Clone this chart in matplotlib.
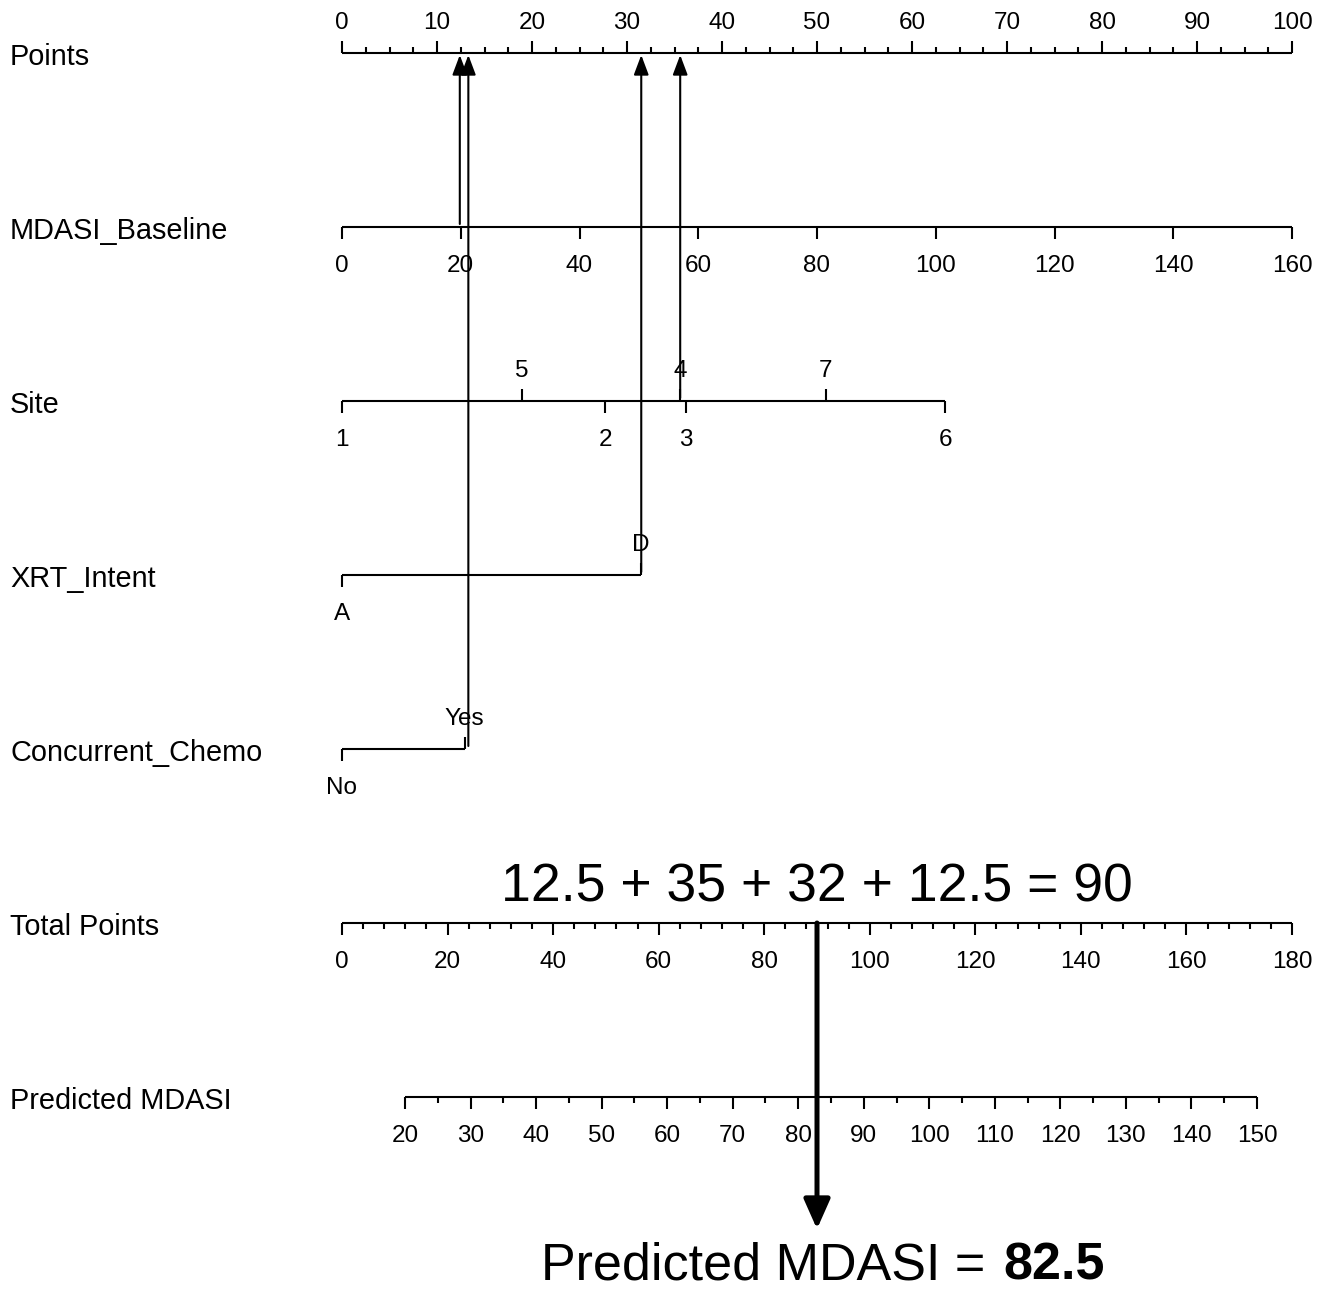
import matplotlib
matplotlib.use('Agg')
import matplotlib.pyplot as plt
from matplotlib.transforms import blended_transform_factory
import numpy as np

plt.rcParams['font.family'] = ['Liberation Sans', 'DejaVu Sans']

# ---------------- data ----------------
row_labels = ['Points', 'MDASI_Baseline', 'Site', 'XRT_Intent',
              'Concurrent_Chemo', 'Total Points', 'Predicted MDASI']

points_ticks = list(range(0, 101, 10))
points_minor_step = 2.5

mdasi_ticks = [0, 20, 40, 60, 80, 100, 120, 140, 160]
mdasi_max = 160          # value that scores 100 points

site_levels = ['1', '5', '2', '4', '3', '7', '6']
site_points = [0, 18.9, 27.7, 35.6, 36.2, 50.9, 63.5]
site_side = ['below', 'above', 'below', 'above', 'below', 'above', 'below']

xrt_levels = ['A', 'D']
xrt_points = [0, 31.5]
xrt_side = ['below', 'above']

chemo_levels = ['No', 'Yes']
chemo_points = [0, 12.9]
chemo_side = ['below', 'above']

total_ticks = list(range(0, 181, 20))
total_minor_step = 4
total_max = 180

pred_ticks = list(range(20, 151, 10))
pred_minor_step = 5
pred_total_at_20 = 11.94
pred_total_at_150 = 173.37

arrow_points = [12.4, 13.3, 31.5, 35.6]
arrow_rows = [1, 4, 3, 2]

total_value = 90
formula_text = '12.5 + 35 + 32 + 12.5 = 90'
pred_text = 'Predicted MDASI ='
pred_value_text = '82.5'

# ---------------- helpers ----------------
W, H = 1335, 1292
ROW_PX = 174.0
PX = 1.0 / ROW_PX          # one pixel in row units
X0, X1 = 342, 1292         # pixel extent of the 0-100 points scale

def mdasi_pts(v):
    return v * 100.0 / mdasi_max

def total_pts(t):
    return t * 100.0 / total_max

def pred_pts(p):
    t = pred_total_at_20 + (p - 20) * (pred_total_at_150 - pred_total_at_20) / 130.0
    return total_pts(t)

fig = plt.figure(figsize=(W / 100, H / 100), dpi=100)
ax = fig.add_axes([X0 / W, 0, (X1 - X0) / W, 1])
ax.set_xlim(0, 100)
ax.set_ylim((H - 53) / ROW_PX, -53 / ROW_PX)
ax.axis('off')

LW = 1.5
MAJ = 12 * PX
MIN = 6 * PX
TICK_FS = 17.5
ABOVE = 24 * PX
BELOW = 45 * PX

def hline(row, a, b):
    ax.plot([a, b], [row, row], color='black', lw=LW, solid_capstyle='butt', clip_on=False)

def tick(row, x, length, side):
    d = -length if side == 'above' else length
    ax.plot([x, x], [row, row + d], color='black', lw=LW, solid_capstyle='butt', clip_on=False)

def tlabel(row, x, s, side):
    y = row - ABOVE if side == 'above' else row + BELOW
    ax.text(x, y, s, ha='center', va='baseline', fontsize=TICK_FS, clip_on=False)

# Points row (ticks upward, labels above)
r = 0
hline(r, 0, 100)
for v in np.arange(0, 100 + 1e-9, points_minor_step):
    if v % 10 != 0:
        tick(r, v, MIN, 'above')
for v in points_ticks:
    tick(r, v, MAJ, 'above')
    tlabel(r, v, str(v), 'above')

# MDASI_Baseline
r = 1
hline(r, 0, mdasi_pts(max(mdasi_ticks)))
for v in mdasi_ticks:
    tick(r, mdasi_pts(v), MAJ, 'below')
    tlabel(r, mdasi_pts(v), str(v), 'below')

# categorical rows
for r, levels, pts, sides in [(2, site_levels, site_points, site_side),
                              (3, xrt_levels, xrt_points, xrt_side),
                              (4, chemo_levels, chemo_points, chemo_side)]:
    hline(r, min(pts), max(pts))
    for lev, p, sd in zip(levels, pts, sides):
        tick(r, p, MAJ, sd)
        tlabel(r, p, lev, sd)

# Total Points
r = 5
hline(r, 0, total_pts(total_max))
for v in np.arange(0, total_max + 1e-9, total_minor_step):
    if v % 20 != 0:
        tick(r, total_pts(v), MIN, 'below')
for v in total_ticks:
    tick(r, total_pts(v), MAJ, 'below')
    tlabel(r, total_pts(v), str(v), 'below')

# Predicted MDASI
r = 6
hline(r, pred_pts(min(pred_ticks)), pred_pts(max(pred_ticks)))
for v in np.arange(min(pred_ticks), max(pred_ticks) + 1e-9, pred_minor_step):
    if v % 10 != 0:
        tick(r, pred_pts(v), MIN, 'below')
for v in pred_ticks:
    tick(r, pred_pts(v), MAJ, 'below')
    tlabel(r, pred_pts(v), str(v), 'below')

# row labels on the left
tr = blended_transform_factory(fig.transFigure, ax.transData)
for i, lab in enumerate(row_labels):
    ax.text(10 / W, i + 12 * PX, lab, transform=tr, ha='left', va='baseline',
            fontsize=20.8, clip_on=False)

# thin arrows up to Points axis
for p, rr in zip(arrow_points, arrow_rows):
    ax.annotate('', xy=(p, 2 * PX), xytext=(p, rr - 3 * PX),
                arrowprops=dict(arrowstyle='-|>,head_length=0.8,head_width=0.3',
                                mutation_scale=15, lw=LW, color='black',
                                shrinkA=0, shrinkB=0),
                annotation_clip=False)

# thick arrow from total points down
xt = total_pts(total_value)
ax.annotate('', xy=(xt, 5 + (1228 - 922) * PX), xytext=(xt, 5),
            arrowprops=dict(arrowstyle='-|>,head_length=0.9,head_width=0.4',
                            mutation_scale=20, lw=3.6, color='black',
                            shrinkA=0, shrinkB=0),
            annotation_clip=False)

# formula text
ax.text(xt, 5 - 22 * PX, formula_text, ha='center', va='baseline',
        fontsize=38.5, clip_on=False)

# predicted result text
ybase = 6 + (1279 - 1097) * PX
ax.text((985 - X0) / 9.5, ybase, pred_text, ha='right', va='baseline',
        fontsize=37.5, clip_on=False)
ax.text((1003 - X0) / 9.5, ybase, pred_value_text, ha='left', va='baseline',
        fontsize=37.5, fontweight='bold', clip_on=False)

fig.savefig('out.png', dpi=100)
